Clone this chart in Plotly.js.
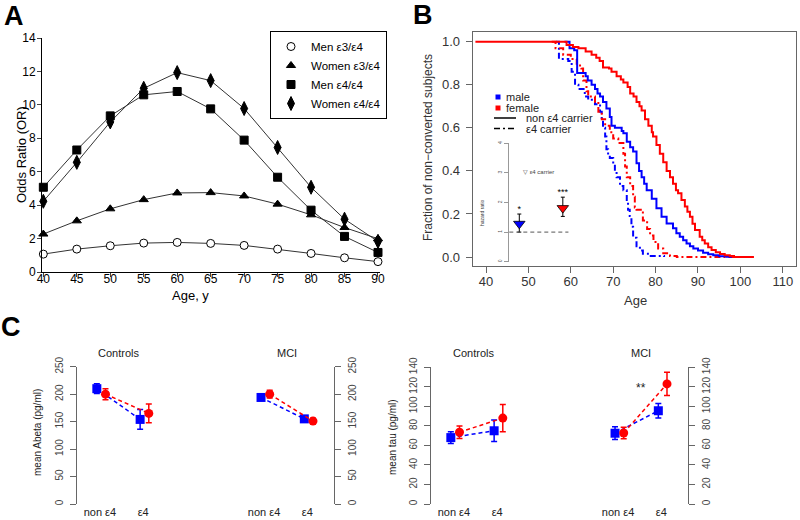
<!DOCTYPE html>
<html>
<head>
<meta charset="utf-8">
<script src="https://cdn.plot.ly/plotly-3.0.1.min.js"></script>
<style>html,body{margin:0;padding:0;background:#fff;}#chart{width:800px;height:520px;}</style>
</head>
<body>
<div id="chart"></div>
<script>
// ---------- Panel A data ----------
const ageA = [40, 45, 50, 55, 60, 65, 70, 75, 80, 85, 90];
const menE3E4 = [1.07, 1.37, 1.57, 1.73, 1.77, 1.71, 1.59, 1.37, 1.11, 0.85, 0.62];
const womenE3E4 = [2.27, 3.06, 3.78, 4.33, 4.73, 4.75, 4.55, 4.06, 3.42, 2.66, 1.99];
const menE4E4 = [5.07, 7.30, 9.34, 10.6, 10.8, 9.76, 7.89, 5.67, 3.70, 2.13, 1.17];
const womenE4E4 = [4.23, 6.56, 8.98, 10.99, 11.93, 11.45, 9.78, 7.45, 5.07, 3.16, 1.83];
const seriesNamesA = ['Men ε3/ε4', 'Women ε3/ε4', 'Men ε4/ε4', 'Women ε4/ε4'];

// ---------- Panel B data (Kaplan-Meier curves) ----------
const femaleNonAge = [37.5, 59.0, 60.5, 61.8, 63.5, 64.9, 66.0, 66.8, 67.6, 69.0, 69.6, 70.8, 71.8, 72.4, 73.4, 74.0, 74.8, 75.5, 76.2, 76.7, 77.5, 78.3, 79.1, 79.4, 80.2, 81.0, 81.8, 82.6, 83.4, 84.1, 84.8, 85.3, 86.1, 86.9, 87.5, 88.1, 88.7, 89.3, 90.4, 91.0, 91.6, 92.4, 93.2, 94.2, 95.2, 96.3, 97.5, 98.5, 103.2];
const femaleNonSurv = [1.0, 0.985, 0.975, 0.97, 0.955, 0.94, 0.925, 0.91, 0.88, 0.875, 0.86, 0.84, 0.825, 0.81, 0.79, 0.76, 0.745, 0.72, 0.70, 0.68, 0.64, 0.61, 0.58, 0.56, 0.52, 0.48, 0.44, 0.40, 0.37, 0.34, 0.31, 0.296, 0.265, 0.234, 0.21, 0.187, 0.155, 0.125, 0.094, 0.078, 0.063, 0.045, 0.033, 0.022, 0.014, 0.008, 0.005, 0.0, 0.0];
const maleNonAge = [58.5, 59.7, 60.8, 61.5, 63.5, 64.0, 64.9, 65.7, 66.3, 66.9, 67.6, 68.4, 69.2, 69.6, 70.4, 72.0, 72.4, 73.2, 74.0, 74.7, 75.5, 76.1, 76.7, 77.3, 77.9, 79.1, 80.2, 81.4, 82.6, 84.1, 84.9, 85.7, 86.5, 87.3, 88.1, 88.9, 90.0, 91.2, 92.4, 93.6, 95.0, 96.7, 98.0];
const maleNonSurv = [1.0, 0.97, 0.96, 0.855, 0.84, 0.82, 0.80, 0.78, 0.76, 0.745, 0.72, 0.69, 0.65, 0.61, 0.60, 0.585, 0.575, 0.535, 0.51, 0.49, 0.435, 0.40, 0.37, 0.34, 0.31, 0.27, 0.226, 0.187, 0.156, 0.133, 0.11, 0.094, 0.078, 0.063, 0.05, 0.04, 0.03, 0.02, 0.013, 0.008, 0.004, 0.001, 0.0];
const maleE4Age = [56.5, 57.2, 59.4, 60.2, 61.0, 61.8, 63.3, 64.1, 65.7, 66.9, 67.3, 67.6, 68.1, 68.4, 68.8, 69.2, 70.0, 70.4, 70.8, 71.6, 72.4, 73.2, 73.5, 73.9, 74.3, 74.7, 75.5, 76.3, 77.0, 78.6, 82.0];
const maleE4Surv = [1.0, 0.92, 0.91, 0.86, 0.80, 0.78, 0.745, 0.73, 0.71, 0.675, 0.64, 0.60, 0.56, 0.50, 0.47, 0.46, 0.43, 0.40, 0.37, 0.33, 0.31, 0.265, 0.22, 0.19, 0.14, 0.09, 0.05, 0.03, 0.015, 0.005, 0.0];
const femaleE4Age = [55.5, 56.4, 58.2, 60.0, 61.4, 62.5, 62.9, 63.7, 64.1, 65.7, 66.5, 67.3, 68.1, 69.2, 70.0, 71.2, 72.4, 72.8, 73.2, 74.0, 74.7, 75.1, 75.5, 77.0, 78.0, 78.7, 79.5, 80.6, 81.8, 83.4, 85.0, 102.5];
const femaleE4Surv = [1.0, 0.97, 0.94, 0.92, 0.89, 0.875, 0.82, 0.77, 0.745, 0.72, 0.675, 0.64, 0.61, 0.58, 0.55, 0.53, 0.48, 0.42, 0.37, 0.33, 0.28, 0.23, 0.22, 0.17, 0.13, 0.10, 0.07, 0.04, 0.017, 0.005, 0.0, 0.0];
const ageTicksB = [40, 50, 60, 70, 80, 90, 100, 110];
const survTicksB = [0, 0.2, 0.4, 0.6, 0.8, 1.0];

// inset hazard ratios (male, female)
const hrPos = [1, 2];
const hrValue = [1.28, 1.81];
const hrUpper = [1.61, 2.18];
const hrLower = [1.00, 1.53];
const hrStars = ['*', '***'];
const hrTicks = [0, 1, 2, 3, 4];

// ---------- Panel C data ----------
const groupLabels = ['non ε4', 'ε4'];
const groupPos = [1, 2];
const abetaCtrlBlue = [210, 154], abetaCtrlBlueErr = [9, 18];
const abetaCtrlRed = [200, 165], abetaCtrlRedErr = [10, 17];
const abetaMciBlue = [194, 155], abetaMciBlueErr = [5, 4];
const abetaMciRed = [200, 151], abetaMciRedErr = [7, 5];
const tauCtrlBlue = [68, 75], tauCtrlBlueErr = [6, 11];
const tauCtrlRed = [73.5, 88], tauCtrlRedErr = [6.5, 14];
const tauMciBlue = [72.5, 95.5], tauMciBlueErr = [6.5, 7.5];
const tauMciRed = [72.7, 123], tauMciRedErr = [6, 12];
const abetaTicks = [0, 50, 100, 150, 200, 250];
const tauTicks = [0, 20, 40, 60, 80, 100, 120, 140];

// ---------- helpers ----------
const W = 800, H = 520;
const px = v => v / W;
const py = v => 1 - v / H;
const FONT = 'Liberation Sans, Arial, sans-serif';
const BLUE = '#0000ff', RED = '#ff0000';
const redOffset = 0.2;

const traces = [];

// Panel A
const symA = ['circle', 'triangle-up', 'square', 'diamond-tall'];
const valsA = [menE3E4, womenE3E4, menE4E4, womenE4E4];
valsA.forEach((v, i) => {
  traces.push({x: ageA, y: v, xaxis: 'x', yaxis: 'y', mode: 'lines', showlegend: false,
    line: {color: '#333', width: 1}, hoverinfo: 'skip'});
});
valsA.forEach((v, i) => {
  traces.push({x: ageA, y: v, xaxis: 'x', yaxis: 'y', mode: 'markers', name: seriesNamesA[i],
    cliponaxis: false,
    marker: {symbol: symA[i], size: i === 3 ? 10 : 8, color: i === 0 ? '#fff' : '#000',
      line: {color: '#000', width: 1}}});
});

// Panel B curves
function km(x, y, color, dash) {
  return {x: x, y: y, xaxis: 'x2', yaxis: 'y2', mode: 'lines', showlegend: false,
    line: {shape: 'hv', color: color, width: 2, dash: dash}};
}
traces.push(km(maleE4Age, maleE4Surv, BLUE, '6px,3px,2px,3px'));
traces.push(km(femaleE4Age, femaleE4Surv, RED, '6px,3px,2px,3px'));
traces.push(km(maleNonAge, maleNonSurv, BLUE, 'solid'));
traces.push(km(femaleNonAge, femaleNonSurv, RED, 'solid'));

// Inset
[0, 1].forEach(i => {
  traces.push({x: [hrPos[i]], y: [hrValue[i]], xaxis: 'x3', yaxis: 'y3', mode: 'markers',
    showlegend: false, cliponaxis: false,
    error_y: {type: 'data', symmetric: false, array: [hrUpper[i] - hrValue[i]], arrayminus: [hrValue[i] - hrLower[i]],
      color: '#000', thickness: 1, width: 2},
    marker: {symbol: 'triangle-down', size: 10, color: i === 0 ? BLUE : RED, line: {color: '#000', width: 0.8}}});
  traces.push({x: [hrPos[i]], y: [hrUpper[i]], xaxis: 'x3', yaxis: 'y3', mode: 'text',
    showlegend: false, cliponaxis: false, text: [hrStars[i]], textposition: 'top center',
    textfont: {size: 9, color: '#000', family: FONT}});
});

// Panel C
function cTrace(xa, ya, yv, err, color, isRed) {
  return {x: groupPos.map(p => p + (isRed ? redOffset : 0)), y: yv, xaxis: xa, yaxis: ya,
    mode: 'lines+markers', showlegend: false, cliponaxis: false,
    line: {color: color, width: 1.5, dash: '4px,3px'},
    marker: {symbol: isRed ? 'circle' : 'square', size: 9, color: color},
    error_y: {type: 'data', array: err, color: color, thickness: 1.5, width: 3}};
}
traces.push(cTrace('x4', 'y4', abetaCtrlBlue, abetaCtrlBlueErr, BLUE, false));
traces.push(cTrace('x4', 'y4', abetaCtrlRed, abetaCtrlRedErr, RED, true));
traces.push(cTrace('x5', 'y5', abetaMciBlue, abetaMciBlueErr, BLUE, false));
traces.push(cTrace('x5', 'y5', abetaMciRed, abetaMciRedErr, RED, true));
traces.push(cTrace('x6', 'y6', tauCtrlBlue, tauCtrlBlueErr, BLUE, false));
traces.push(cTrace('x6', 'y6', tauCtrlRed, tauCtrlRedErr, RED, true));
traces.push(cTrace('x7', 'y7', tauMciBlue, tauMciBlueErr, BLUE, false));
traces.push(cTrace('x7', 'y7', tauMciRed, tauMciRedErr, RED, true));

// ---------- layout ----------
const baseAx = {showgrid: false, zeroline: false, fixedrange: true};
const cx = (l, r, anchor) => Object.assign({}, baseAx, {domain: [px(l), px(r)], range: [0.535, 2.69], anchor: anchor,
  showline: false, ticks: '', tickvals: groupPos.map(p => p + 0.07), ticktext: groupLabels,
  tickfont: {size: 11, color: '#222', family: FONT}});
const cy = (top, anchor, side, range, ticks) => Object.assign({}, baseAx, {domain: [py(504), py(top)], range: range,
  anchor: anchor, side: side, showline: true, linecolor: '#666', linewidth: 1, ticks: 'outside', ticklen: 6,
  tickcolor: '#666', tickvals: ticks, tickangle: -90, ticklabelstandoff: 3,
  tickfont: {size: 10, color: '#444', family: FONT}});

const layout = {
  width: W, height: H, margin: {l: 0, r: 0, t: 0, b: 0},
  paper_bgcolor: '#fff', plot_bgcolor: 'rgba(0,0,0,0)',
  font: {family: FONT, color: '#000'},
  showlegend: true,
  legend: {x: px(387), y: py(31), xanchor: 'right', yanchor: 'top', bordercolor: '#000', borderwidth: 1,
    bgcolor: '#fff', font: {size: 11.5, family: FONT}, itemwidth: 30, tracegroupgap: 0},
  xaxis: Object.assign({}, baseAx, {domain: [px(42), px(380)], range: [39.8, 90.3], anchor: 'y',
    showline: true, linecolor: '#000', ticks: 'outside', ticklen: 4, tickvals: ageA, ticklabelstandoff: -8,
    tickfont: {size: 12, color: '#000', family: FONT}}),
  yaxis: Object.assign({}, baseAx, {domain: [py(272), py(38)], range: [0, 14], anchor: 'x',
    showline: true, linecolor: '#000', ticks: 'outside', ticklen: 4, dtick: 2, ticklabelstandoff: -1,
    tickfont: {size: 12, color: '#000', family: FONT}}),
  xaxis2: Object.assign({}, baseAx, {domain: [px(472.7), px(795.5)], range: [36.86, 113.0], anchor: 'y2',
    showline: true, mirror: true, linecolor: '#666', ticks: 'outside', ticklen: 6, tickcolor: '#666',
    tickvals: ageTicksB, ticklabelstandoff: -2, tickfont: {size: 13, color: '#333', family: FONT}}),
  yaxis2: Object.assign({}, baseAx, {domain: [py(265.7), py(32.3)], range: [-0.0404, 1.0437], anchor: 'x2',
    showline: true, mirror: true, linecolor: '#666', ticks: 'outside', ticklen: 6, tickcolor: '#666',
    tickvals: survTicksB, tickformat: '.1f', ticklabelstandoff: 3, tickfont: {size: 13, color: '#333', family: FONT}}),
  xaxis3: Object.assign({}, baseAx, {domain: [px(509.3), px(575)], range: [0.77, 2.28], anchor: 'y3', visible: false}),
  yaxis3: Object.assign({}, baseAx, {domain: [py(261.7), py(143.3)], range: [0, 4], anchor: 'x3',
    showline: true, linecolor: '#999', ticks: 'outside', ticklen: 4, tickcolor: '#999', tickvals: hrTicks,
    tickangle: -90, tickfont: {size: 5, color: '#555', family: FONT}}),
  xaxis4: cx(76.7, 170, 'y4'),
  yaxis4: cy(366.7, 'x4', 'left', [0, 250], abetaTicks),
  xaxis5: cx(240.9, 334.2, 'y5'),
  yaxis5: cy(366.7, 'x5', 'right', [0, 250], abetaTicks),
  xaxis6: cx(430.7, 524, 'y6'),
  yaxis6: cy(367.3, 'x6', 'left', [0, 140], tauTicks),
  xaxis7: cx(594.9, 688.2, 'y7'),
  yaxis7: cy(367.3, 'x7', 'right', [0, 140], tauTicks),
  shapes: [
    // inset reference line at HR = 1
    {type: 'line', xref: 'x3 domain', yref: 'y3', x0: 0, x1: 0.9, y0: 1, y1: 1,
      line: {color: '#555', width: 1, dash: '4px,3px'}},
    // panel B legend keys
    {type: 'rect', xref: 'paper', yref: 'paper', x0: px(495.5), x1: px(500.5), y0: py(99.5), y1: py(94.5),
      fillcolor: BLUE, line: {width: 0}},
    {type: 'rect', xref: 'paper', yref: 'paper', x0: px(495.5), x1: px(500.5), y0: py(110.5), y1: py(105.5),
      fillcolor: RED, line: {width: 0}},
    {type: 'line', xref: 'paper', yref: 'paper', x0: px(494), x1: px(516), y0: py(118), y1: py(118),
      line: {color: '#000', width: 1.5}},
    {type: 'line', xref: 'paper', yref: 'paper', x0: px(494), x1: px(516), y0: py(128.5), y1: py(128.5),
      line: {color: '#000', width: 1.5, dash: '6px,3px,2px,3px'}}
  ],
  annotations: []
};

function ann(text, x, y, opts) {
  layout.annotations.push(Object.assign({text: text, x: px(x), y: py(y), xref: 'paper', yref: 'paper',
    showarrow: false, xanchor: 'center', yanchor: 'middle', font: {size: 12, color: '#000', family: FONT}}, opts || {}));
}
// panel letters
ann('<b>A</b>', 14, 16, {font: {size: 27, color: '#000', family: FONT}});
ann('<b>B</b>', 423, 15, {font: {size: 27, color: '#000', family: FONT}});
ann('<b>C</b>', 11, 327, {font: {size: 27, color: '#000', family: FONT}});
// panel A titles
ann('Age, y', 190, 295, {borderpad: 0, font: {size: 13, color: '#000', family: FONT}});
ann('Odds Ratio (OR)', 21, 155, {textangle: -90, font: {size: 13, color: '#000', family: FONT}});
// panel B titles
ann('Age', 635, 300, {font: {size: 13, color: '#333', family: FONT}});
ann('Fraction of non−converted subjects', 428, 148, {textangle: -90, font: {size: 12, color: '#333', family: FONT}});
// panel B legend text
ann('male', 505, 97, {xanchor: 'left', borderpad: 0, font: {size: 11, color: '#222', family: FONT}});
ann('female', 505, 108, {xanchor: 'left', borderpad: 0, font: {size: 11, color: '#222', family: FONT}});
ann('non ε4 carrier', 525, 118, {xanchor: 'left', borderpad: 0, font: {size: 11, color: '#222', family: FONT}});
ann('ε4 carrier', 525, 128.5, {xanchor: 'left', borderpad: 0, font: {size: 11, color: '#222', family: FONT}});
// inset texts
ann('hazard ratio', 482, 213, {textangle: -90, font: {size: 5, color: '#444', family: FONT}});
ann('▽ ε4 carrier', 521, 172, {xanchor: 'left', font: {size: 6, color: '#444', family: FONT}});
// panel C titles
ann('Controls', 118, 353, {font: {size: 11, color: '#222', family: FONT}});
ann('MCI', 287, 353, {font: {size: 11, color: '#222', family: FONT}});
ann('Controls', 473, 353, {font: {size: 11, color: '#222', family: FONT}});
ann('MCI', 641, 353, {font: {size: 11, color: '#222', family: FONT}});
ann('mean Abeta (pg/ml)', 37, 433, {textangle: -90, font: {size: 10, color: '#222', family: FONT}});
ann('mean tau (pg/ml)', 392, 437, {textangle: -90, font: {size: 10, color: '#222', family: FONT}});
ann('**', 641, 388, {font: {size: 12, color: '#222', family: FONT}});

Plotly.newPlot('chart', traces, layout, {displayModeBar: false, staticPlot: true});
</script>
</body>
</html>
